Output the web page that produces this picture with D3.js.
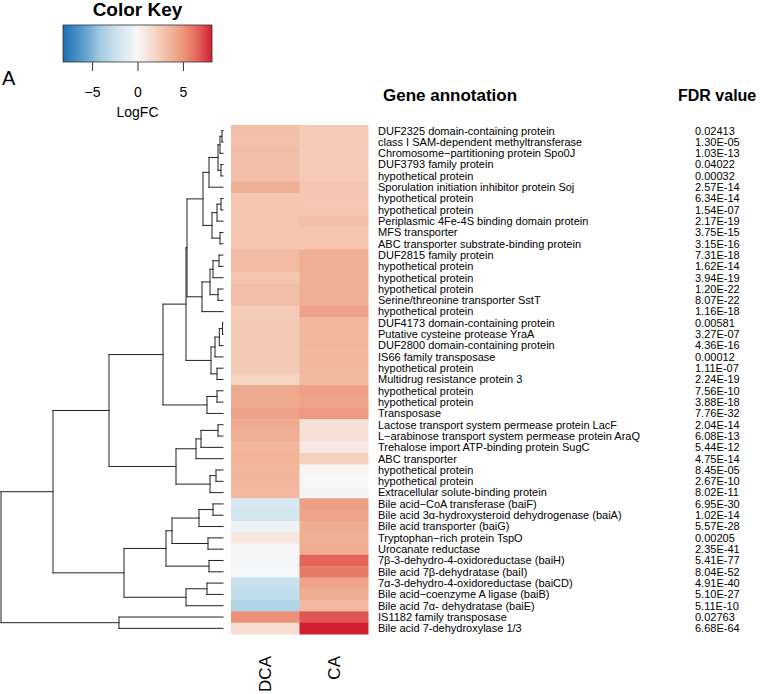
<!DOCTYPE html>
<html>
<head>
<meta charset="utf-8">
<script src="https://cdn.jsdelivr.net/npm/d3@7"></script>
<style>
  html, body { margin: 0; padding: 0; background: #fff; }
  text { font-family: "Liberation Sans", Arial, sans-serif; fill: #000; }
</style>
</head>
<body>
<svg id="chart" width="760" height="694"></svg>
<script>
// ---------------- DATA ----------------
const samples = ["DCA", "CA"];

const genes = [
  "DUF2325 domain-containing protein",
  "class I SAM-dependent methyltransferase",
  "Chromosome\u2212partitioning protein Spo0J",
  "DUF3793 family protein",
  "hypothetical protein",
  "Sporulation initiation inhibitor protein Soj",
  "hypothetical protein",
  "hypothetical protein",
  "Periplasmic 4Fe-4S binding domain protein",
  "MFS transporter",
  "ABC transporter substrate-binding protein",
  "DUF2815 family protein",
  "hypothetical protein",
  "hypothetical protein",
  "hypothetical protein",
  "Serine/threonine transporter SstT",
  "hypothetical protein",
  "DUF4173 domain-containing protein",
  "Putative cysteine protease YraA",
  "DUF2800 domain-containing protein",
  "IS66 family transposase",
  "hypothetical protein",
  "Multidrug resistance protein 3",
  "hypothetical protein",
  "hypothetical protein",
  "Transposase",
  "Lactose transport system permease protein LacF",
  "L\u2212arabinose transport system permease protein AraQ",
  "Trehalose import ATP-binding protein SugC",
  "ABC transporter",
  "hypothetical protein",
  "hypothetical protein",
  "Extracellular solute-binding protein",
  "Bile acid\u2212CoA transferase (baiF)",
  "Bile acid 3\u03b1-hydroxysteroid dehydrogenase (baiA)",
  "Bile acid transporter (baiG)",
  "Tryptophan\u2212rich protein TspO",
  "Urocanate reductase",
  "7\u03b2-3-dehydro-4-oxidoreductase (baiH)",
  "Bile acid 7\u03b2-dehydratase (baiI)",
  "7\u03b1-3-dehydro-4-oxidoreductase (baiCD)",
  "Bile acid\u2212coenzyme A ligase (baiB)",
  "Bile acid 7\u03b1- dehydratase (baiE)",
  "IS1182 family transposase",
  "Bile acid 7-dehydroxylase 1/3"
];

const fdrValues = [
  "0.02413", "1.30E-05", "1.03E-13", "0.04022", "0.00032", "2.57E-14",
  "6.34E-14", "1.54E-07", "2.17E-19", "3.75E-15", "3.15E-16",
  "7.31E-18", "1.62E-14", "3.94E-19", "1.20E-22", "8.07E-22", "1.16E-18",
  "0.00581", "3.27E-07", "4.36E-16", "0.00012", "1.11E-07", "2.24E-19",
  "7.56E-10", "3.88E-18", "7.76E-32",
  "2.04E-14", "6.08E-13", "5.44E-12", "4.75E-14",
  "8.45E-05", "2.67E-10", "8.02E-11",
  "6.95E-30", "1.02E-14", "5.57E-28", "0.00205", "2.35E-41", "5.41E-77",
  "8.04E-52", "4.91E-40", "5.10E-27", "5.11E-10",
  "0.02763", "6.68E-64"
];

// LogFC per gene, DCA column
const logfcDCA = [
  3.1, 3.0, 3.2, 3.0, 3.1, 3.9,
  2.8, 2.8, 2.8, 2.8, 2.8,
  3.3, 3.3, 2.8, 3.2, 3.1, 2.5,
  2.6, 2.6, 2.6, 2.6, 2.5, 2.0,
  4.2, 4.2, 4.5,
  4.1, 4.0, 3.6, 3.7,
  3.6, 3.6, 3.4,
  -1.8, -2.0, -0.6, 1.0, 0.1, -0.2, -0.1, -2.5, -2.8, -3.5,
  5.2, 1.5
];
// LogFC per gene, CA column
const logfcCA = [
  2.5, 2.5, 2.4, 2.5, 2.5, 2.8,
  2.7, 2.7, 3.1, 2.8, 2.8,
  4.0, 4.0, 4.0, 4.0, 4.0, 4.5,
  3.5, 3.5, 3.5, 3.5, 3.4, 3.4,
  4.6, 4.4, 4.8,
  1.2, 1.3, 0.8, 2.2,
  0.2, 0.0, -0.3,
  4.6, 4.4, 4.1, 4.0, 4.1, 6.6, 6.0, 4.4, 4.1, 3.4,
  7.0, 8.2
];

// Row dendrogram: [height, left, right]; integers are leaf (row) indices
const dendrogram =
[222,
  [170,
    [114,
      [60,
        [37,
          [36,
            [20,
              [14, [5, [3, [1, 0, 1], 2], [2, 3, 4]], 5],
              [11, [6, [2, 6, 7], 8], [3, 9, 10]]
            ],
            [21, [13, [10, [4, 11, 12], 13], [5, 14, 15]], 16]
          ],
          [12, [8, [3.7, [0.5, 17, 18], 19], 20], [6, 21, 22]]
        ],
        [16, [6, 23, 24], 25]
      ],
      [47, [27, [22, [5, 26, 27], 28], 29], [13, [7, 30, 31], 32]]
    ],
    [99, [57, [51, [24, [10, 33, 34], 35], [15, 36, 37]], [14, 38, 39]], [37, [16, 40, 41], 42]]
  ],
  [104, 43, 44]
];

const keyDomain = [-8.2, 8.2];
const keyTicks = [-5, 0, 5];

// ---------------- STYLE ----------------
const colorStopValues = [-8.2, -6, -4, -2, 0, 2, 4, 5.4, 6.9, 8.2];
const colorStopColors = ["#1c6fb3", "#5b9ccb", "#a5cce2", "#d4e6f0", "#f7f7f7",
                         "#f6d4c3", "#f0ae92", "#eb8c72", "#e05a55", "#d31e31"];

const color = d3.scaleLinear()
  .domain(colorStopValues)
  .range(colorStopColors)
  .interpolate(d3.interpolateRgb)
  .clamp(true);

const svg = d3.select("#chart");

// ---------------- HEATMAP ----------------
const rowIdx = d3.range(genes.length);
const y = d3.scaleBand().domain(rowIdx).range([125, 634]).padding(0);
const x = d3.scaleBand().domain(samples).range([231, 368]).padding(0);

const cells = [];
rowIdx.forEach(i => {
  cells.push({ row: i, col: "DCA", v: logfcDCA[i] });
  cells.push({ row: i, col: "CA", v: logfcCA[i] });
});

svg.append("g").selectAll("rect")
  .data(cells)
  .join("rect")
  .attr("x", d => x(d.col))
  .attr("y", d => y(d.row))
  .attr("width", x.bandwidth() + 0.5)
  .attr("height", y.bandwidth() + 0.5)
  .attr("fill", d => color(d.v));

// Column labels (rotated)
svg.append("g").selectAll("text")
  .data(samples)
  .join("text")
  .attr("transform", d => `translate(${x(d) + x.bandwidth() / 2 + 6},656) rotate(-90)`)
  .attr("text-anchor", "end")
  .attr("font-size", 17)
  .text(d => d);

// Gene labels
svg.append("g").selectAll("text")
  .data(rowIdx)
  .join("text")
  .attr("x", 378)
  .attr("y", i => y(i) + y.bandwidth() / 2)
  .attr("dy", "0.35em")
  .attr("font-size", 11)
  .text(i => genes[i]);

// FDR values
svg.append("g").selectAll("text")
  .data(rowIdx)
  .join("text")
  .attr("x", 695)
  .attr("y", i => y(i) + y.bandwidth() / 2)
  .attr("dy", "0.35em")
  .attr("font-size", 11)
  .text(i => fdrValues[i]);

// Headers
svg.append("text").attr("x", 383).attr("y", 101)
  .attr("font-size", 17).attr("font-weight", "bold").text("Gene annotation");
svg.append("text").attr("x", 678).attr("y", 101)
  .attr("font-size", 16).attr("font-weight", "bold").text("FDR value");

// ---------------- DENDROGRAM ----------------
const hx = d3.scaleLinear().domain([0, 222]).range([223, 1]);
const segs = [];
function layout(node) {
  if (typeof node === "number") {
    return { y: y(node) + y.bandwidth() / 2, h: 0 };
  }
  const [h, a, b] = node;
  const A = layout(a), B = layout(b);
  segs.push([hx(h), A.y, hx(h), B.y]);
  segs.push([hx(h), A.y, hx(A.h), A.y]);
  segs.push([hx(h), B.y, hx(B.h), B.y]);
  return { y: (A.y + B.y) / 2, h: h };
}
layout(dendrogram);

svg.append("g").selectAll("line")
  .data(segs)
  .join("line")
  .attr("x1", d => d[0]).attr("y1", d => d[1])
  .attr("x2", d => d[2]).attr("y2", d => d[3])
  .attr("stroke", "#222")
  .attr("stroke-width", 1)
  .attr("stroke-linecap", "square");

// ---------------- COLOR KEY ----------------
const kx = d3.scaleLinear().domain(keyDomain).range([63, 212]);
const defs = svg.append("defs");
const grad = defs.append("linearGradient").attr("id", "keygrad")
  .attr("x1", "0%").attr("x2", "100%").attr("y1", "0%").attr("y2", "0%");
const gs = d3.range(0, 41).map(k => keyDomain[0] + (keyDomain[1] - keyDomain[0]) * k / 40);
grad.selectAll("stop").data(gs).join("stop")
  .attr("offset", d => ((d - keyDomain[0]) / (keyDomain[1] - keyDomain[0]) * 100) + "%")
  .attr("stop-color", d => color(d));

svg.append("rect")
  .attr("x", kx(keyDomain[0])).attr("y", 25)
  .attr("width", kx(keyDomain[1]) - kx(keyDomain[0])).attr("height", 37)
  .attr("fill", "url(#keygrad)")
  .attr("stroke", "#333").attr("stroke-width", 0.8);

const keyAxis = d3.axisBottom(kx).tickValues(keyTicks).tickSize(9).tickPadding(16)
  .tickFormat(d => d < 0 ? "\u2212" + Math.abs(d) : String(d));
const ka = svg.append("g").attr("transform", "translate(0,62)").call(keyAxis);
ka.select(".domain").remove();
ka.selectAll(".tick line").attr("stroke", "#333");
ka.selectAll(".tick text").attr("font-size", 14).attr("font-family", "Liberation Sans, Arial, sans-serif").attr("fill", "#000");

svg.append("text").attr("x", 137.5).attr("y", 16)
  .attr("text-anchor", "middle").attr("font-size", 19).attr("font-weight", "bold")
  .text("Color Key");
svg.append("text").attr("x", 137.5).attr("y", 117)
  .attr("text-anchor", "middle").attr("font-size", 14)
  .text("LogFC");
svg.append("text").attr("x", 2).attr("y", 85)
  .attr("font-size", 20)
  .text("A");
</script>
</body>
</html>
